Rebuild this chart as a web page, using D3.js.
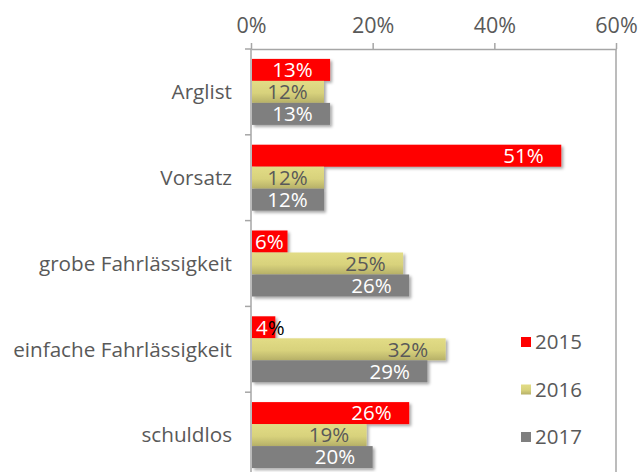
<!DOCTYPE html>
<html>
<head>
<meta charset="utf-8">
<script src="https://cdn.jsdelivr.net/npm/d3@7"></script>
<style>
  html, body { margin: 0; padding: 0; background: #fff; }
  svg { display: block; font-family: "Open Sans", "Noto Sans", sans-serif; }
</style>
</head>
<body>
<svg id="chart" width="639" height="472"></svg>
<script>
const categories = ["Arglist", "Vorsatz", "grobe Fahrlässigkeit", "einfache Fahrlässigkeit", "schuldlos"];
const seriesNames = ["2015", "2016", "2017"];
const values2015 = [13, 51, 6, 4, 26];
const values2016 = [12, 12, 25, 32, 19];
const values2017 = [13, 12, 26, 29, 20];
const xTicks = [0, 20, 40, 60];

const seriesValues = [values2015, values2016, values2017];
const svg = d3.select("#chart");
const axisColor = "#a6a6a6";
const textColor = "#595959";

const defs = svg.append("defs");
const grad = defs.append("linearGradient").attr("id", "g2016").attr("x1", 0).attr("y1", 0).attr("x2", 0).attr("y2", 1);
grad.append("stop").attr("offset", "0%").attr("stop-color", "#e2dc86");
grad.append("stop").attr("offset", "55%").attr("stop-color", "#d8d27c");
grad.append("stop").attr("offset", "100%").attr("stop-color", "#b6b068");
const flt = defs.append("filter").attr("id", "shadow").attr("x", "-10%").attr("y", "-20%").attr("width", "130%").attr("height", "160%");
flt.append("feDropShadow").attr("dx", 2).attr("dy", 2).attr("stdDeviation", 1.6).attr("flood-color", "#000").attr("flood-opacity", 0.35);

const fills = ["#ff0000", "url(#g2016)", "#7f7f7f"];
const labelColors = ["#ffffff", "#595959", "#ffffff"];

const x = d3.scaleLinear().domain([0, 60]).range([251, 616]);
const y = d3.scaleBand().domain(categories).range([49, 478]).paddingInner(0).paddingOuter(0);
const bw = y.bandwidth();
const inner = d3.scaleBand().domain(seriesNames).range([0, bw]).paddingInner(0).paddingOuter(0.45);

// right border line (60%)
svg.append("line").attr("x1", x(60)).attr("x2", x(60)).attr("y1", 49).attr("y2", 472)
  .attr("stroke", axisColor).attr("stroke-width", 1.5);

// top axis
const xAxis = d3.axisTop(x).tickValues(xTicks).tickFormat(d => d + "%").tickSize(6).tickSizeOuter(0);
const gx = svg.append("g").attr("transform", "translate(0,49)").call(xAxis);
gx.select(".domain").attr("stroke", axisColor).attr("stroke-width", 1.5);
gx.selectAll(".tick line").attr("stroke", axisColor).attr("stroke-width", 1.5);
gx.selectAll(".tick text").attr("fill", textColor).attr("font-size", 21.5).attr("y", -16)
  .attr("font-family", "'Open Sans', sans-serif");

// left axis
const yBoundaries = categories.map(c => y(c)).concat([y(categories[categories.length - 1]) + bw]);
svg.append("line").attr("x1", x(0)).attr("x2", x(0)).attr("y1", 49).attr("y2", 472)
  .attr("stroke", axisColor).attr("stroke-width", 1.5);
svg.selectAll(".ytick").data(yBoundaries).join("line").attr("class", "ytick")
  .attr("x1", x(0) - 6).attr("x2", x(0)).attr("y1", d => d).attr("y2", d => d)
  .attr("stroke", axisColor).attr("stroke-width", 1.5);
svg.selectAll(".ylabel").data(categories).join("text").attr("class", "ylabel")
  .attr("x", 232).attr("y", d => y(d) + bw / 2).attr("dy", "0.35em")
  .attr("text-anchor", "end").attr("fill", textColor).attr("font-size", 20.7).text(d => d);

// bars
const groups = svg.selectAll(".series").data(seriesNames).join("g").attr("class", "series");
groups.each(function(s, si) {
  const g = d3.select(this);
  const vals = seriesValues[si];
  g.selectAll("rect").data(categories).join("rect")
    .attr("x", x(0) + 1)
    .attr("y", (c) => y(c) + inner(s))
    .attr("width", (c, i) => x(vals[i]) - x(0) - 1)
    .attr("height", inner.bandwidth())
    .attr("fill", fills[si])
    .attr("filter", "url(#shadow)");
});
const pad = 17.5;
groups.each(function(s, si) {
  const g = d3.select(this);
  const vals = seriesValues[si];
  g.selectAll("text").data(categories).join("text")
    .attr("y", c => y(c) + inner(s) + inner.bandwidth() / 2)
    .attr("dy", "0.36em")
    .attr("font-size", 20.5)
    .attr("fill", labelColors[si])
    .each(function(c, i) {
      const t = d3.select(this);
      const v = vals[i];
      if (si === 0 && v < 5) {
        t.attr("text-anchor", "start").attr("x", x(0) + 5);
        t.append("tspan").attr("fill", "#ffffff").text(v);
        t.append("tspan").attr("fill", "#000000").text("%");
      } else {
        t.text(v + "%");
        const w = this.getComputedTextLength();
        const barW = x(v) - x(0);
        if (barW < w + 2 * pad) {
          t.attr("text-anchor", "middle").attr("x", x(0) + barW / 2);
        } else {
          t.attr("text-anchor", "end").attr("x", x(v) - pad);
        }
      }
    });
});

// legend
const legend = svg.append("g");
seriesNames.forEach((s, i) => {
  const ly = 342 + i * 47.5;
  legend.append("rect").attr("x", 521).attr("y", ly - 5).attr("width", 10).attr("height", 10).attr("fill", fills[i]);
  legend.append("text").attr("x", 535).attr("y", ly).attr("dy", "0.36em").attr("fill", textColor)
    .attr("font-size", 20.5).text(s);
});
</script>
</body>
</html>
